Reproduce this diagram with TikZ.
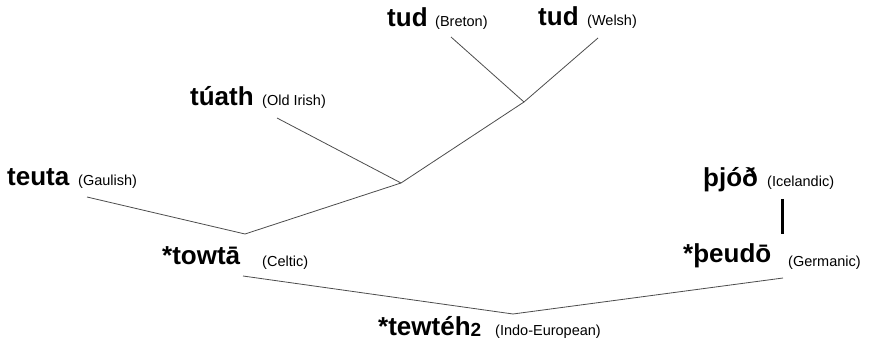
\documentclass[tikz,border=0pt]{standalone}
\usepackage{fontspec}
\setmainfont{Liberation Sans}
\begin{document}
\begin{tikzpicture}[x=1pt,y=-1pt,
  word/.style={anchor=base west, inner sep=0pt, font=\fontsize{26}{30}\selectfont\bfseries},
  gloss/.style={anchor=base west, inner sep=0pt, font=\fontsize{14.5}{17}\selectfont},
  branch/.style={draw=black!70, line width=0.8pt},
  stem/.style={draw=black, line width=3pt}]
\useasboundingbox (0,0) rectangle (874,344);

% forms and their languages
\node[word]  (breton)  at (387,27)  {tud};
\node[gloss] (bretonL) at (435,27)  {(Breton)};
\node[word]  (welsh)   at (538,26)  {tud};
\node[gloss] (welshL)  at (587,26)  {(Welsh)};
\node[word]  (oirish)  at (190,106) {túath};
\node[gloss] (oirishL) at (262,106) {(Old Irish)};
\node[word]  (gaul)    at (7,186)   {teuta};
\node[gloss] (gaulL)   at (78,186)  {(Gaulish)};
\node[word]  (celtic)  at (162,265) {*towtā};
\node[gloss] (celticL) at (262,266) {(Celtic)};
\node[word]  (icel)    at (703,187) {þjóð};
\node[gloss] (icelL)   at (767,187) {(Icelandic)};
\node[word]  (germ)    at (683,263) {*þeudō};
\node[gloss] (germL)   at (788,267) {(Germanic)};
\node[word]  (pie)     at (378,335) {*tewtéh{\fontsize{19}{20}\selectfont\raisebox{-1pt}{2}}};
\node[gloss] (pieL)    at (495,335) {(Indo-European)};

% branch ends and junctions
\coordinate (bretonE) at (451,37);
\coordinate (welshE)  at (598,38);
\coordinate (brit)    at (524,102);
\coordinate (oirishE) at (277,118);
\coordinate (insular) at (401,183);
\coordinate (gaulE)   at (87,197);
\coordinate (celtJ)   at (245,234);
\coordinate (celticE) at (243,276);
\coordinate (pieJ)    at (513,314);
\coordinate (germE)   at (783,278);
\coordinate (icelTop) at (782,199);
\coordinate (icelBot) at (782,234);

% the tree
\draw[branch] (bretonE) -- (brit) -- (welshE);
\draw[branch] (brit) -- (insular) -- (oirishE);
\draw[branch] (insular) -- (celtJ) -- (gaulE);
\draw[branch] (celticE) -- (pieJ) -- (germE);
\draw[stem] (icelTop) -- (icelBot);
\end{tikzpicture}
\end{document}
